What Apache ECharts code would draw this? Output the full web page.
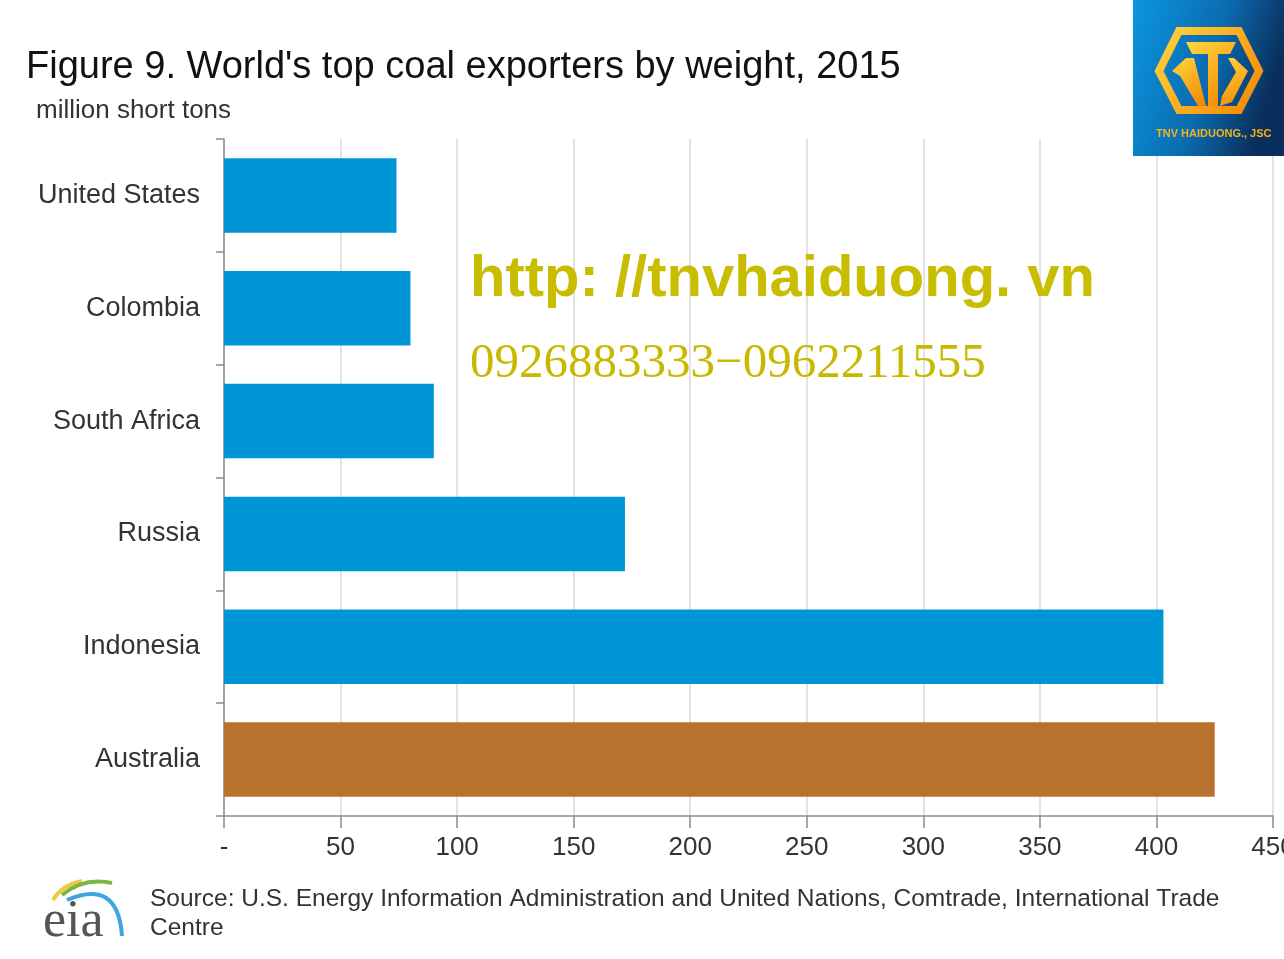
<!DOCTYPE html>
<html>
<head>
<meta charset="utf-8">
<script src="https://cdn.jsdelivr.net/npm/echarts@6/dist/echarts.min.js"></script>
<style>html,body{margin:0;padding:0;background:#fff;overflow:hidden;}#c{width:1284px;height:959px;}</style>
</head>
<body>
<div id="c"></div>
<script>
const categories = ['United States', 'Colombia', 'South Africa', 'Russia', 'Indonesia', 'Australia'];
const exports2015 = [74, 80, 90, 172, 403, 425];
const xTicks = [0, 50, 100, 150, 200, 250, 300, 350, 400, 450];
const titleText = "Figure 9. World's top coal exporters by weight, 2015";
const unitText = 'million short tons';
const sourceLines = ['Source: U.S. Energy Information Administration and United Nations, Comtrade, International Trade', 'Centre'];
const watermarkUrl = 'http: //tnvhaiduong. vn';
const watermarkPhone = '0926883333\u22120962211555';
const logoText = 'TNV HAIDUONG., JSC';

const chart = echarts.init(document.getElementById('c'));
const FONT = '"Liberation Sans", Arial, sans-serif';
const gold = () => new echarts.graphic.LinearGradient(0, 0, 1, 1, [{ offset: 0, color: '#ffd740' }, { offset: 0.6, color: '#f9a51a' }, { offset: 1, color: '#f08400' }]);
chart.setOption({
  backgroundColor: '#ffffff',
  animation: false,
  grid: { left: 224, right: 11, top: 139, bottom: 143, containLabel: false, outerBoundsMode: 'none' },
  xAxis: {
    type: 'value', min: xTicks[0], max: xTicks[xTicks.length - 1], interval: 50,
    axisLine: { show: true, lineStyle: { color: '#8c8c8c', width: 1.5 } },
    axisTick: { show: true, length: 12, lineStyle: { color: '#8c8c8c', width: 1.5 } },
    splitLine: { show: true, lineStyle: { color: '#d9d9d9', width: 1.5 } },
    axisLabel: { fontFamily: FONT, fontSize: 26, color: '#333', margin: 19, hideOverlap: false,
      showMinLabel: true, showMaxLabel: true,
      formatter: v => v === 0 ? '-' : String(v) }
  },
  yAxis: {
    type: 'category', inverse: true, data: categories,
    axisLine: { show: true, lineStyle: { color: '#8c8c8c', width: 1.5 } },
    axisTick: { show: true, length: 8, alignWithLabel: false, lineStyle: { color: '#8c8c8c', width: 1.5 } },
    axisLabel: { fontFamily: FONT, fontSize: 27, color: '#333', margin: 24 },
    splitLine: { show: false }
  },
  series: [{
    type: 'bar', data: exports2015, barCategoryGap: '34%',
    itemStyle: { color: p => p.name === 'Australia' ? '#b9722e' : '#0095d5' }
  }],
  graphic: [
    { type: 'text', left: 26, top: 49, style: { text: titleText, font: '38px ' + FONT, fill: '#111' } },
    { type: 'text', left: 36, top: 98, style: { text: unitText, font: '26px ' + FONT, fill: '#333' } },
    { type: 'text', left: 150, top: 885, style: { text: sourceLines.join('\n'), font: '24.5px ' + FONT, fill: '#333', lineHeight: 29 } },
    { type: 'text', left: 470, top: 251, z: 100, style: { text: watermarkUrl, font: 'bold 58px ' + FONT, fill: '#c8bd00' } },
    { type: 'text', left: 470, top: 340, z: 100, style: { text: watermarkPhone, font: '49px "Liberation Serif", "Times New Roman", serif', fill: '#c9b800' } },
    // EIA logo
    { type: 'text', left: 43, top: 896, style: { text: 'eia', font: '52px "Liberation Serif", serif', fill: '#555' } },
    { type: 'bezierCurve', shape: { x1: 53, y1: 900, x2: 82, y2: 881, cpx1: 62, cpy1: 885 }, style: { stroke: '#e9cb3c', lineWidth: 4, fill: null } },
    { type: 'bezierCurve', shape: { x1: 62, y1: 895, x2: 112, y2: 883, cpx1: 84, cpy1: 877 }, style: { stroke: '#7db443', lineWidth: 4, fill: null } },
    { type: 'bezierCurve', shape: { x1: 67, y1: 900, x2: 122, y2: 936, cpx1: 118, cpy1: 878 }, style: { stroke: '#3ea5de', lineWidth: 4, fill: null } },
    // TNV logo
    { type: 'rect', z: 200, shape: { x: 1133, y: 0, width: 151, height: 156 },
      style: { fill: new echarts.graphic.LinearGradient(0, 0, 1, 0.3, [{ offset: 0, color: '#0b97e0' }, { offset: 0.6, color: '#0b6aae' }, { offset: 1, color: '#0a2f5c' }]) } },
    { type: 'polygon', z: 201, shape: { points: [[1179, 31], [1239, 31], [1259, 71], [1239, 110], [1179, 110], [1159, 71]] },
      style: { fill: null, stroke: gold(), lineWidth: 8, lineJoin: 'miter' } },
    { type: 'polygon', z: 201, shape: { points: [[1186, 42], [1236, 42], [1230, 54], [1218, 54], [1218, 106], [1208, 106], [1208, 54], [1192, 54]] },
      style: { fill: gold() } },
    { type: 'polygon', z: 201, shape: { points: [[1186, 58], [1194, 58], [1206, 106], [1198, 106], [1180, 76], [1172, 71]] },
      style: { fill: gold() } },
    { type: 'polygon', z: 201, shape: { points: [[1228, 58], [1234, 58], [1248, 71], [1232, 102], [1220, 106], [1222, 96], [1236, 72]] },
      style: { fill: gold() } },
    { type: 'text', z: 201, left: 1156, top: 128, style: { text: logoText, font: 'bold 11px ' + FONT, fill: '#f2b320' } }
  ]
});
</script>
</body>
</html>
